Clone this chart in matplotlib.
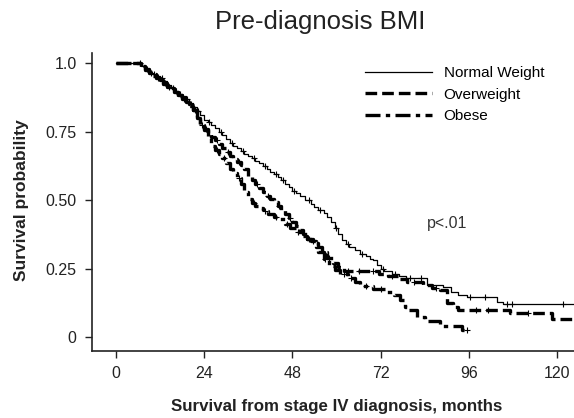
import numpy as np
import matplotlib
matplotlib.use("Agg")
import matplotlib.pyplot as plt

plt.rcParams['font.family'] = ['Liberation Sans', 'DejaVu Sans']

# --- data (months, survival after each drop)
normal_t = [0, 7, 8, 9, 10, 11, 12, 13, 14, 15, 16, 17, 18, 19, 20, 21, 22, 23, 24, 25,
            26, 27, 28, 29, 30, 31, 32, 33, 34, 35, 36, 37, 38, 39, 40, 41, 42, 43, 44, 45,
            46, 47, 48, 49, 50, 51.5, 53, 54, 55, 56.5, 57.5, 58.5, 59.5, 60.5, 61.5, 62.5,
            63.5, 65, 66.5, 68, 69, 70, 71, 72, 73, 75, 77, 79, 84.6, 89, 91, 93, 95.5,
            103.5, 105.3]
normal_s = [1.0, .99, .98, .97, .96, .955, .945, .935, .92, .91, .90, .89, .88, .87, .855,
            .84, .825, .81, .795, .785, .775, .765, .75, .74, .725, .71, .70, .69, .68, .67,
            .66, .655, .645, .635, .625, .615, .605, .595, .585, .575, .56, .55, .535, .525,
            .515, .50, .485, .475, .465, .455, .44, .42, .40, .375, .355, .34, .33, .32,
            .305, .295, .285, .28, .265, .25, .24, .23, .225, .215, .19, .183, .165, .155,
            .146, .13, .122]
normal_end = 125
normal_c = [6.6, 10.5, 12.5, 15.5, 17.5, 19.5, 22.5, 25.5, 28.5, 31.5, 34.5, 37.5, 40.5,
            43.5, 45.5, 48.5, 52.5, 55.5, 60, 63, 67, 72.5, 76, 80, 83, 96.3, 100.4, 106.3,
            107.7, 121.6]

ow_t = [0, 7, 8, 9, 10, 11, 12, 13, 14, 15, 16, 17, 18, 19, 20, 21, 22, 23, 24, 25, 26,
        27, 28, 29, 30, 31, 32, 33, 34, 35, 36, 37, 38, 39, 40, 41, 42, 43, 44, 45, 46, 47,
        48, 49, 50, 51, 52, 53, 54.5, 56, 57.5, 59, 60.5, 62, 71.5, 74, 77, 79.2, 83.5, 86,
        88, 90, 91.7, 93, 107.2, 118.5]
ow_s = [1.0, .985, .975, .965, .955, .945, .935, .925, .915, .905, .895, .88, .87, .86,
        .845, .83, .80, .78, .76, .745, .73, .72, .705, .69, .675, .66, .65, .64, .63, .615,
        .59, .575, .56, .545, .53, .515, .505, .495, .48, .465, .45, .435, .42, .405, .39,
        .375, .36, .35, .33, .31, .29, .27, .255, .24, .232, .222, .212, .2, .19, .18, .172,
        .125, .11, .099, .088, .065]
ow_end = 125
ow_c = [9.5, 11.5, 14.5, 18.5, 21.5, 24.5, 27.5, 30.5, 33.5, 38.5, 41.5, 44.5, 47.5, 53.5,
        58, 63, 66, 70, 75, 81, 87, 98, 101.2, 112]

ob_t = [0, 6.6, 8, 9, 10, 11, 12, 13, 14, 15, 16, 17, 18, 19, 20, 21, 22, 23, 24, 25, 26,
        27, 28, 29, 30, 31, 32, 33, 34, 35, 36, 37, 38, 39, 40, 41.5, 43, 44.5, 46, 47.5,
        49, 50.5, 52, 53.5, 55, 56.5, 58, 59.5, 61, 63, 65, 66.5, 70, 73.5, 75.5, 77.3,
        78.5, 79.2, 81.9, 84, 88.1, 94]
ob_s = [1.0, .99, .98, .97, .96, .95, .94, .93, .92, .91, .90, .885, .875, .86, .85, .83,
        .80, .775, .755, .73, .70, .685, .67, .655, .635, .615, .60, .58, .56, .53, .505,
        .49, .48, .47, .46, .45, .44, .43, .415, .40, .385, .37, .36, .345, .31, .285, .26,
        .245, .232, .215, .20, .185, .175, .165, .155, .135, .11, .10, .075, .058, .04,
        .027]
ob_end = 95.4
ob_c = [8.5, 11.5, 13.5, 16.5, 20.5, 23.5, 27.5, 29.5, 33.5, 37.5, 40.5, 43.5, 46.5, 49.5,
        52.5, 57, 62, 64, 68, 72, 95.4]

labels = ["Normal Weight", "Overweight", "Obese"]
xticks = [0, 24, 48, 72, 96, 120]
yticks = [0, 0.25, 0.5, 0.75, 1.0]
ytick_labels = ["0", "0.25", "0.50", "0.75", "1.0"]

fig = plt.figure(figsize=(5.74, 4.18), dpi=100)
ax = fig.add_axes([92 / 574, 1 - 350.5 / 418, 1 - 92 / 574, (350.5 - 53.3) / 418])

styles = [
    dict(lw=0.9, linestyle='-'),
    dict(lw=2.4, dashes=(3.5, 1.5)),
    dict(lw=2.4, dashes=(4.5, 1.6, 1.3, 1.6)),
]
groups = [(normal_t, normal_s, normal_end, normal_c),
          (ow_t, ow_s, ow_end, ow_c),
          (ob_t, ob_s, ob_end, ob_c)]

for (t, s, end, cens), lab, st in zip(groups, labels, styles):
    tt = np.array(t + [end])
    ss = np.array(s + [s[-1]])
    ax.step(tt, ss, where='post', color='black', label=lab, **st)
    # censor marks sit on the curve value at that time
    idx = np.searchsorted(np.array(t), cens, side='right') - 1
    ax.plot(cens, np.array(s)[idx], linestyle='none', marker='+', color='black',
            markersize=5, markeredgewidth=0.8)

ax.set_xlim(-6.4, 124.5)
ax.set_ylim(-0.049, 1.037)
ax.set_xticks(xticks)
ax.set_yticks(yticks)
ax.set_yticklabels(ytick_labels)
ax.tick_params(direction='out', length=5, width=1, labelsize=11.5, colors='#222222', pad=6)
for side in ['top', 'right']:
    ax.spines[side].set_visible(False)
for side in ['left', 'bottom']:
    ax.spines[side].set_linewidth(1.2)
    ax.spines[side].set_color('#222222')

ax.text(90, 0.415, "p<.01", fontsize=11.5, color='#333333', ha='center', va='center')

fig.text(320 / 574, 1 - 22 / 418, "Pre-diagnosis BMI", fontsize=18.5, color='#222222',
         ha='center', va='center')
fig.text(337 / 574, 1 - 406 / 418, "Survival from stage IV diagnosis, months",
         fontsize=12.2, fontweight='bold', color='#222222', ha='center', va='center')
fig.text(22 / 574, 1 - 200 / 418, "Survival probability", fontsize=12.5,
         fontweight='bold', color='#222222', ha='center', va='center', rotation=90)

ax.legend(loc='upper left', bbox_to_anchor=(365 / 574, 1 - 66 / 418),
          bbox_transform=fig.transFigure, frameon=False, fontsize=11,
          handlelength=4.4, handletextpad=0.75, labelspacing=0.5,
          borderpad=0, borderaxespad=0)

fig.savefig("out.png", dpi=100)
